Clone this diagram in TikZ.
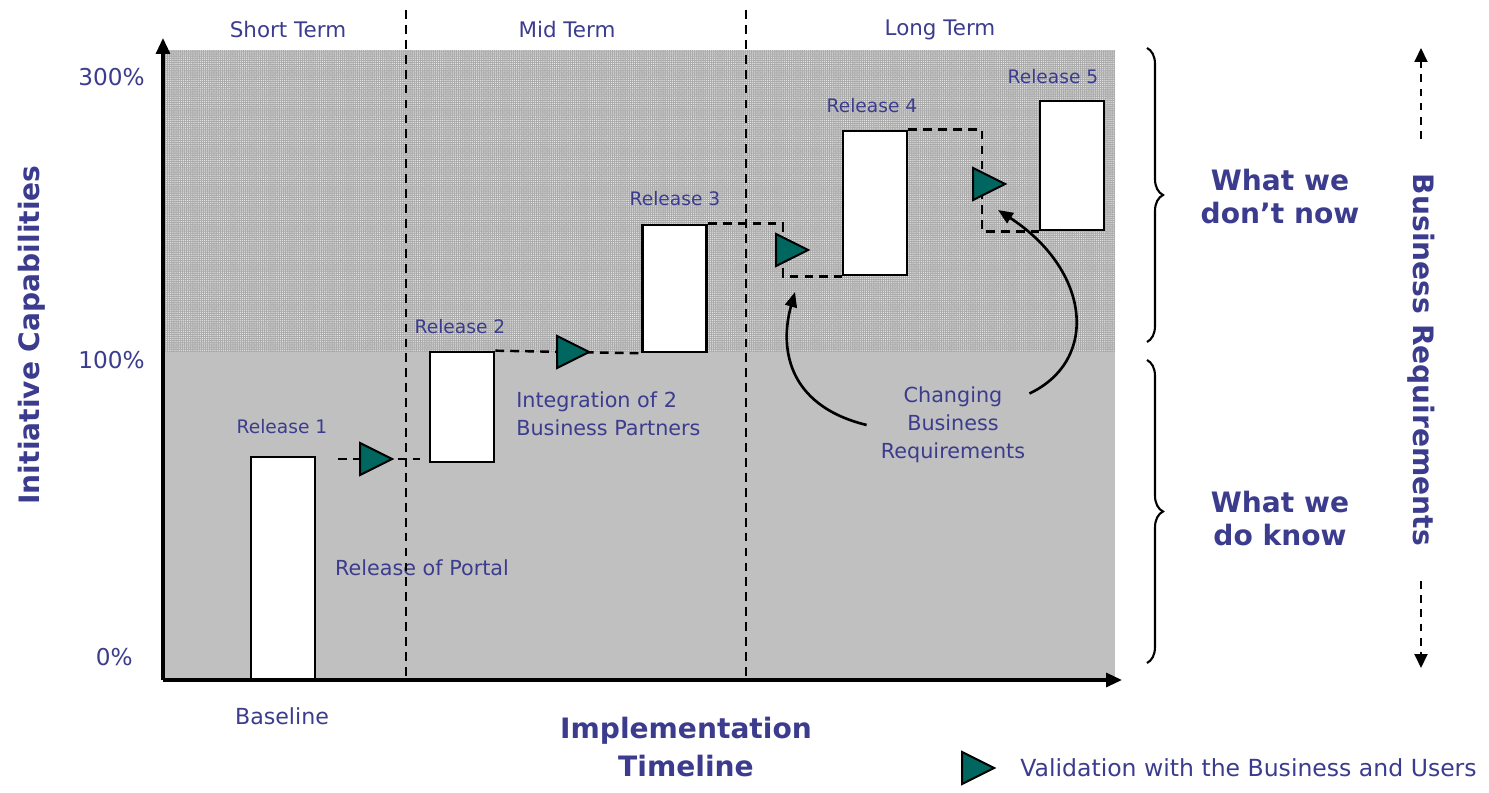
\documentclass[tikz,border=0pt]{standalone}
\usepackage{fontspec}
\setmainfont{DejaVu Sans}
\usepackage{tikz}
\usetikzlibrary{shapes.geometric, arrows.meta, decorations.pathreplacing, patterns.meta}
\definecolor{txtblue}{RGB}{60,60,142}
\definecolor{valteal}{RGB}{0,102,96}
\definecolor{knowngray}{RGB}{192,192,192}
\definecolor{hatchgray}{RGB}{170,170,170}
\tikzstyle{arrow} = [line width=1.8pt,-{Triangle[length=0.32cm,width=0.28cm]}]
\tikzstyle{dashline} = [line width=1.4pt, dash pattern=on 5pt off 3.5pt]
\tikzstyle{dasharrow} = [line width=1.1pt, dash pattern=on 4.5pt off 3.5pt, -{Triangle[length=0.28cm,width=0.26cm]}]
\tikzstyle{curvarrow} = [line width=1.5pt, -{Triangle[length=0.3cm,width=0.24cm]}]
\tikzstyle{curly} = [decorate, decoration={brace, amplitude=0.32cm}, line width=1.2pt]
\tikzstyle{relbox} = [draw, fill=white, line width=1.5pt, minimum width=1.28cm, inner sep=0pt]
\tikzstyle{valid} = [isosceles triangle, isosceles triangle stretches, draw, fill=valteal, line width=1.1pt, minimum width=0.64cm, minimum height=0.64cm, inner sep=0pt]
\tikzstyle{lbl} = [text=txtblue, font=\fontsize{11.8}{15.9}\selectfont, inner sep=0pt]
\tikzstyle{relname} = [text=txtblue, font=\fontsize{10.6}{13}\selectfont, inner sep=0pt]
\tikzstyle{bigtxt} = [text=txtblue, font=\bfseries\fontsize{16}{18.8}\selectfont, inner sep=0pt]

\begin{document}
\begin{tikzpicture}[x=0.02cm, y=-0.02cm]
    \useasboundingbox (0,0) rectangle (1489,793);

    % Background
    \fill[knowngray] (163,352) rectangle (1115,680);
    \fill[hatchgray] (163,50) rectangle (1115,352);
    \fill[pattern={Dots[distance=1.2pt,radius=0.35pt]}, pattern color=white!85!gray] (163,50) rectangle (1115,352);

    % Nodes
    \node[relbox, minimum height=4.46cm] (r1) at (283,568.5) {};
    \node[relbox, minimum height=2.2cm] (r2) at (462,407) {};
    \node[relbox, minimum height=2.54cm] (r3) at (674.5,288.5) {};
    \node[relbox, minimum height=2.88cm] (r4) at (875,203) {};
    \node[relbox, minimum height=2.58cm] (r5) at (1072,165.5) {};

    \node[relname] (l1) at (282,427) {Release 1};
    \node[relname] (l2) at (460,327) {Release 2};
    \node[relname] (l3) at (675,199) {Release 3};
    \node[relname] (l4) at (872,106) {Release 4};
    \node[relname] (l5) at (1053,77) {Release 5};

    \node[lbl, font=\fontsize{12.2}{15}\selectfont] (st) at (288,30) {Short Term};
    \node[lbl, font=\fontsize{12.2}{15}\selectfont] (mt) at (567,30) {Mid Term};
    \node[lbl, font=\fontsize{12.2}{15}\selectfont] (lt) at (940,30) {Long Term};

    \node[lbl, anchor=east, font=\fontsize{13.2}{15}\selectfont] (p300) at (145,77) {300\%};
    \node[lbl, anchor=east, font=\fontsize{13.2}{15}\selectfont] (p100) at (145,360) {100\%};
    \node[lbl, anchor=east, font=\fontsize{13.2}{15}\selectfont] (p0) at (133,657) {0\%};

    \node[lbl, font=\fontsize{12.6}{15}\selectfont] (base) at (282,716) {Baseline};
    \node[lbl] (rp) at (422,568) {Release of Portal};
    \node[lbl, anchor=west, align=left] (ibp) at (516,414) {Integration of 2\\Business Partners};
    \node[lbl, align=center, inner xsep=0.28cm] (cbr) at (953,425) {Changing\\Business\\Requirements};

    \node[bigtxt, rotate=90] (ic) at (32,335) {Initiative Capabilities};
    \node[bigtxt, align=center, font=\bfseries\fontsize{16}{21.6}\selectfont] (it) at (686,747) {Implementation\\Timeline};
    \node[bigtxt, align=center] (wdn) at (1280,197) {What we\\don’t now};
    \node[bigtxt, align=center] (wdk) at (1280,519) {What we\\do know};
    \node[bigtxt, rotate=-90, inner xsep=0.7cm] (br) at (1421,360) {Business Requirements};

    \coordinate (o) at (163,680);
    \coordinate (ytop) at (163,38);
    \coordinate (xend) at (1122,680);
    \coordinate (t1top) at (406,10);
    \coordinate (t1bot) at (406,680);
    \coordinate (t2top) at (746,10);
    \coordinate (t2bot) at (746,680);
    \coordinate (d1a) at (338,459);
    \coordinate (d1b) at (420,459);
    \coordinate (k3) at (783,250);
    \coordinate (k4) at (982,184);
    \coordinate (a1tip) at (795,292);
    \coordinate (a2tip) at (998,210);
    \coordinate (brtop) at (1421,48);
    \coordinate (brbot) at (1421,668);
    \coordinate (b1a) at (1147,48);
    \coordinate (b1b) at (1147,342);
    \coordinate (b2a) at (1147,360);
    \coordinate (b2b) at (1147,663);

    % Edges
    \draw[dashline] (t1top) -- (t1bot);
    \draw[dashline] (t2top) -- (t2bot);
    \draw[arrow] (o) -- (ytop);
    \draw[arrow] (o) -- (xend);

    \draw[dashline] (d1a) -- (d1b);
    \draw[dashline] (r2.north east) -- (r3.south west);
    \draw[dashline] (r3.north east) -| (k3) |- (r4.south west);
    \draw[dashline] (r4.north east) -| (k4) |- (r5.south west);

    \node[valid] (v1) at (370,459) {};
    \node[valid] (v2) at (567,352) {};
    \node[valid] (v3) at (786,250) {};
    \node[valid] (v4) at (983,184) {};

    \draw[curvarrow] (cbr.west) .. controls (785,405) and (780,345) .. (a1tip);
    \draw[curvarrow] ([xshift=-0.2cm]cbr.20) .. controls (1100,360) and (1090,270) .. (a2tip);

    \draw[curly] (b1a) -- (b1b);
    \draw[curly] (b2a) -- (b2b);
    \draw[dasharrow] (br.west) -- (brtop);
    \draw[dasharrow] (br.east) -- (brbot);

    % Legend
    \node[valid] (vl) at (972,768) {};
    \node[lbl, anchor=west, font=\fontsize{13.4}{16}\selectfont] (lg) at (1020,768) {Validation with the Business and Users};

  \end{tikzpicture}
\end{document}
